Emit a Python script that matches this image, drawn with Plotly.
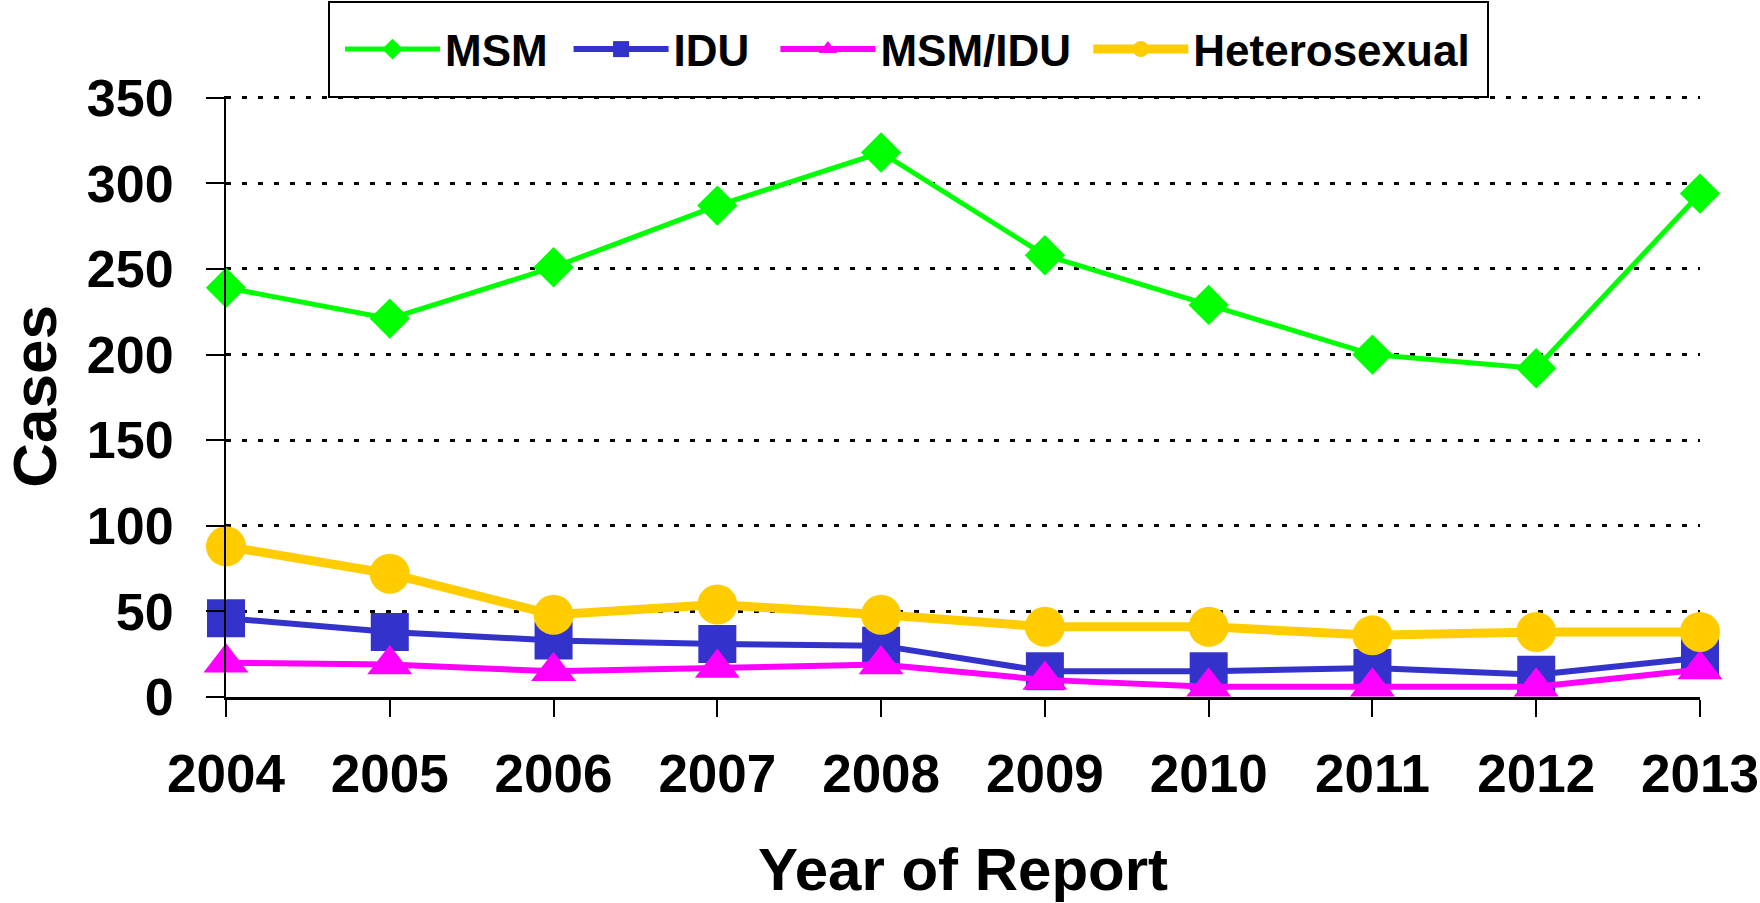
import plotly.graph_objects as go

years = [2004, 2005, 2006, 2007, 2008, 2009, 2010, 2011, 2012, 2013]
year_labels = [str(y) for y in years]
msm = [239, 221, 251, 287, 318, 258, 229, 200, 192, 294]
idu = [46, 38, 33, 31, 30, 15, 15, 17, 13, 23]
msm_idu = [20, 19, 15, 17, 19, 10, 6, 6, 6, 16]
hetero = [88, 72, 48, 54, 48, 41, 41, 36, 38, 38]
y_ticks = [0, 50, 100, 150, 200, 250, 300, 350]

FONT = "Liberation Sans, Arial, sans-serif"

fig = go.Figure()
fig.add_trace(go.Scatter(x=years, y=msm, name="<b>MSM</b>\u00a0\u200a", mode="lines+markers",
                         line=dict(color="#00FF00", width=5),
                         marker=dict(symbol="diamond", size=31, color="#00FF00"),
                         cliponaxis=False))
fig.add_trace(go.Scatter(x=years, y=idu, name="<b>IDU</b>\u00a0\u2009", mode="lines+markers",
                         line=dict(color="#3333CC", width=6),
                         marker=dict(symbol="square", size=38, color="#3333CC"),
                         cliponaxis=False))
fig.add_trace(go.Scatter(x=years, y=msm_idu, name="<b>MSM/IDU</b>\u00a0", mode="lines+markers",
                         line=dict(color="#FF00FF", width=6),
                         marker=dict(symbol="triangle-up", size=39, color="#FF00FF"),
                         cliponaxis=False))
fig.add_trace(go.Scatter(x=years, y=hetero, name="<b>Heterosexual</b>", mode="lines+markers",
                         line=dict(color="#FFCC00", width=9),
                         marker=dict(symbol="circle", size=40, color="#FFCC00"),
                         cliponaxis=False))

L, R, T, B = 226, 60, 96, 206
W, H = 1760, 903
pw, ph = W - L - R, H - T - B

def px_x(p):
    return (p - L) / pw

def px_y(p):
    return (H - B - p) / ph

fig.update_layout(
    width=W, height=H,
    margin=dict(l=L, r=R, t=T, b=B, autoexpand=False),
    plot_bgcolor="white", paper_bgcolor="white",
    font=dict(family=FONT, color="black"),
    showlegend=True,
    legend=dict(orientation="h", x=px_x(340), y=px_y(14), xanchor="left", yanchor="top",
                font=dict(size=44, family=FONT, color="black"),
                bgcolor="rgba(0,0,0,0)", borderwidth=0, itemwidth=95),
    shapes=[dict(type="rect", xref="paper", yref="paper",
                 x0=px_x(329), x1=px_x(1488), y0=px_y(97), y1=px_y(2),
                 line=dict(color="black", width=2), fillcolor="rgba(0,0,0,0)", layer="below")],
    xaxis=dict(range=[2004, 2013], tickvals=years, ticktext=["<b>%s</b>" % t for t in year_labels],
               tickfont=dict(size=53, family=FONT), ticks="outside", ticklen=17, tickwidth=2,
               tickcolor="black", showline=True, linecolor="black", linewidth=3,
               showgrid=False, zeroline=False, ticklabelstandoff=11, automargin=False,
               title=dict(text="<b>Year of Report</b>", font=dict(size=60, family=FONT), standoff=48)),
    yaxis=dict(range=[0, 351], tickvals=y_ticks, ticktext=["<b>%d</b>" % t for t in y_ticks],
               tickfont=dict(size=52, family=FONT), ticks="outside", ticklen=18, tickwidth=2,
               tickcolor="black", showline=True, linecolor="black", linewidth=2,
               showgrid=True, gridcolor="black", gridwidth=3, griddash="5px,11px",
               zeroline=False, ticklabelstandoff=22, automargin=False,
               title=dict(text="<b>Cases</b>", font=dict(size=62, family=FONT), standoff=50)),
)

fig.write_html("out.html", config={"displayModeBar": False},
               post_script="document.body.style.margin='0';document.body.style.padding='0';")
